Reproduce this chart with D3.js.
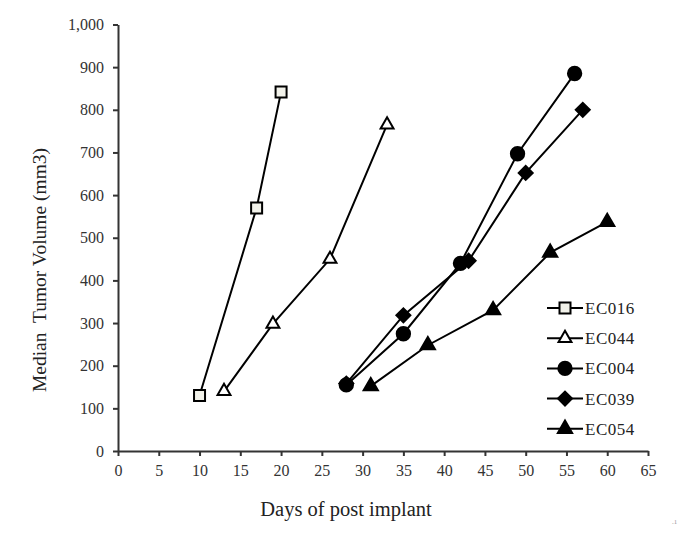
<!DOCTYPE html>
<html>
<head>
<meta charset="utf-8">
<script src="https://cdn.jsdelivr.net/npm/d3@7"></script>
<style>
  html, body { margin: 0; padding: 0; background: #fff; }
  svg { display: block; }
  text { font-family: "Liberation Serif", "Times New Roman", serif; }
</style>
</head>
<body>
<svg id="chart" width="685" height="542"></svg>
<script>
// ---- Data ----
const seriesNames = ["EC016", "EC044", "EC004", "EC039", "EC054"];
const EC016 = [[10, 130], [17, 570], [20, 842]];
const EC044 = [[13, 140], [19, 298], [26, 450], [33, 765]];
const EC004 = [[28, 155], [35, 275], [42, 440], [49, 697], [56, 885]];
const EC039 = [[28, 158], [35, 318], [43, 446], [50, 652], [57, 800]];
const EC054 = [[31, 152], [38, 248], [46, 330], [53, 465], [60, 537]];
const xTicks = [0, 5, 10, 15, 20, 25, 30, 35, 40, 45, 50, 55, 60, 65];
const yTicks = [0, 100, 200, 300, 400, 500, 600, 700, 800, 900, 1000];

const seriesData = [EC016, EC044, EC004, EC039, EC054];
const markerStyle = [
  { type: d3.symbolSquare, size: 121, fill: "#f2f2ea", rot: 0 },
  { type: d3.symbolTriangle, size: 72, fill: "#ffffff", rot: 0 },
  { type: d3.symbolCircle, size: 140, fill: "#000000", rot: 0 },
  { type: d3.symbolSquare, size: 98, fill: "#000000", rot: 45 },
  { type: d3.symbolTriangle, size: 88, fill: "#000000", rot: 0 }
];

const svg = d3.select("#chart");
const x = d3.scaleLinear().domain([0, 65]).range([118, 648]);
const y = d3.scaleLinear().domain([0, 1000]).range([451, 24.5]);

// axes
const xAxis = svg.append("g").attr("transform", `translate(0,${y(0)})`)
  .call(d3.axisBottom(x).tickValues(xTicks).tickSize(5).tickSizeOuter(0).tickPadding(9));
const yAxis = svg.append("g").attr("transform", `translate(${x(0)},0)`)
  .call(d3.axisLeft(y).tickValues(yTicks).tickSize(5).tickSizeOuter(0).tickPadding(9)
    .tickFormat(d3.format(",")));
[xAxis, yAxis].forEach(g => {
  g.select(".domain").attr("stroke", "#333").attr("stroke-width", 2);
  g.selectAll(".tick line").attr("stroke", "#333").attr("stroke-width", 2);
  g.selectAll(".tick text").attr("fill", "#333").style("font-size", "16px")
    .style("font-family", "'Liberation Serif', serif");
});

// axis titles
svg.append("text").attr("x", 346).attr("y", 516).attr("text-anchor", "middle")
  .style("font-size", "20.5px").attr("fill", "#222").text("Days of post implant");
svg.append("text").attr("transform", "translate(46,270) rotate(-90)")
  .attr("text-anchor", "middle").style("font-size", "19.5px").attr("fill", "#222")
  .attr("xml:space", "preserve").text("Median  Tumor Volume (mm3)");

// lines and markers
const line = d3.line().x(d => x(d[0])).y(d => y(d[1]));
function drawMarker(g, st, cx, cy) {
  g.append("path")
    .attr("d", d3.symbol().type(st.type).size(st.size)())
    .attr("transform", `translate(${cx},${cy}) rotate(${st.rot})`)
    .attr("fill", st.fill).attr("stroke", "#000").attr("stroke-width", 2);
}
seriesData.forEach((data, i) => {
  const g = svg.append("g");
  g.append("path").datum(data).attr("d", line)
    .attr("fill", "none").attr("stroke", "#000").attr("stroke-width", 2);
  data.forEach(d => drawMarker(g, markerStyle[i], x(d[0]), y(d[1])));
});

// legend
const lg = svg.append("g");
seriesNames.forEach((name, i) => {
  const ly = 308 + i * 30.2;
  lg.append("line").attr("x1", 547).attr("x2", 583).attr("y1", ly).attr("y2", ly)
    .attr("stroke", "#000").attr("stroke-width", 2);
  drawMarker(lg, markerStyle[i], 565, ly);
  lg.append("text").attr("x", 585).attr("y", ly + 6).style("font-size", "17px")
    .style("letter-spacing", "0.5px").attr("fill", "#222").text(name);
});

// small stray mark
svg.append("text").attr("x", 672).attr("y", 524).style("font-size", "7px")
  .attr("fill", "#999").text(".1");
</script>
</body>
</html>
